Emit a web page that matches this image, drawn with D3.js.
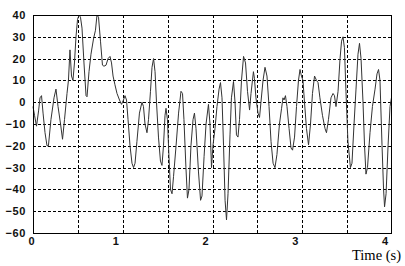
<!DOCTYPE html>
<html>
<head>
<meta charset="utf-8">
<script src="https://cdn.jsdelivr.net/npm/d3@7"></script>
<style>
  html, body { margin: 0; padding: 0; background: #fff; }
  svg { display: block; }
</style>
</head>
<body>
<svg id="chart" width="405" height="266"></svg>
<script>
// ---- data ----
const time = [
  0.000, 0.017, 0.039, 0.062, 0.078, 0.095, 0.112, 0.134, 0.156, 0.172,
  0.200, 0.234, 0.256, 0.279, 0.307, 0.329, 0.351, 0.379, 0.395, 0.412,
  0.429, 0.445, 0.462, 0.479, 0.496, 0.513, 0.529, 0.546, 0.568, 0.591,
  0.602, 0.624, 0.646, 0.674, 0.696, 0.713, 0.730, 0.752, 0.774, 0.791,
  0.814, 0.836, 0.858, 0.875, 0.892, 0.913, 0.936, 0.964, 0.986, 1.008,
  1.025, 1.042, 1.059, 1.081, 1.103, 1.120, 1.137, 1.158, 1.186, 1.214,
  1.231, 1.248, 1.270, 1.287, 1.309, 1.326, 1.343, 1.360, 1.376, 1.398,
  1.420, 1.437, 1.454, 1.471, 1.482, 1.498, 1.515, 1.532, 1.549, 1.566,
  1.594, 1.622, 1.649, 1.666, 1.682, 1.704, 1.721, 1.738, 1.760, 1.783,
  1.799, 1.816, 1.844, 1.867, 1.883, 1.906, 1.928, 1.955, 1.972, 1.989,
  2.005, 2.028, 2.050, 2.073, 2.089, 2.106, 2.123, 2.140, 2.156, 2.173,
  2.195, 2.211, 2.234, 2.251, 2.267, 2.284, 2.301, 2.323, 2.346, 2.368,
  2.390, 2.413, 2.429, 2.456, 2.467, 2.484, 2.507, 2.524, 2.540, 2.563,
  2.585, 2.607, 2.630, 2.652, 2.675, 2.696, 2.718, 2.746, 2.769, 2.785,
  2.797, 2.813, 2.830, 2.853, 2.875, 2.892, 2.914, 2.936, 2.958, 2.975,
  2.991, 3.008, 3.025, 3.047, 3.070, 3.092, 3.114, 3.137, 3.159, 3.176,
  3.197, 3.225, 3.253, 3.270, 3.292, 3.320, 3.343, 3.359, 3.376, 3.399,
  3.421, 3.438, 3.454, 3.470, 3.487, 3.509, 3.537, 3.554, 3.577, 3.599,
  3.621, 3.638, 3.655, 3.677, 3.694, 3.710, 3.727, 3.755, 3.782, 3.811,
  3.833, 3.850, 3.866, 3.889, 3.906, 3.917, 3.934, 3.956, 3.978, 3.994
];
const signal = [
  -2, -6, -11, -4, 2, 3, -5, -14, -20, -20,
  -8, 2, 6, -2, -10, -17, -8, 4, 10, 24,
  12, 10, 18, 30, 38, 40, 39, 34, 18, 3,
  2.5, 14, 22, 29, 33, 40, 39, 28, 17, 16.5,
  17, 20, 21, 18, 12, 8, 4, 1, -1, 1,
  3, 1, -8, -20, -28, -30, -28, -18, -5, 0,
  -2, -10, -14, -8, 5, 16, 20, 14, 0, -16,
  -27, -29, -20, -6, -2.8, -8, -25, -40, -42, -34,
  -20, -5, 5, 4, -8, -30, -44, -40, -20, -8,
  -5, -12, -32, -45, -43, -25, -10, -1, -10, -30,
  -20, -12, -2, 6, 9, 2, -20, -45, -54, -42,
  -15, 2, 9.5, 0, -15, -16, -8, 10, 21, 18,
  5, -3.6, 4, 14, 11, 2, -5, -7, 0, 10,
  16, 12, -2, -18, -28, -30, -24, -10, -3, 2,
  1, 3, -2, -12, -21, -22, -16, -2, 10, 15,
  12, 10, 0, -12, -19.6, -10, 4, 12, 10, 9,
  2, -6, -12, -14, -8, 2, 4, 3, -2, 5,
  20, 28, 30, 25, 5, -18, -30, -28, -10, 6,
  22, 27, 20, 0, -20, -33, -30, -14, -2, 6,
  13, 15, 10, -20, -40, -48, -42, -20, -2, 2
];
const xTicks = [0, 1, 2, 3, 4];
const xGrid = [0.5, 1, 1.5, 2, 2.5, 3, 3.5];
const yTicks = [40, 30, 20, 10, 0, -10, -20, -30, -40, -50, -60];
const yGrid = [30, 20, 10, 0, -10, -20, -30, -40, -50];
const xLabel = "Time (s)";

// ---- layout ----
const svg = d3.select("#chart");
const L = 33, R = 392, T = 15, B = 233;

const x = d3.scaleLinear().domain([0, 4]).range([L, R]);
const y = d3.scaleLinear().domain([-60, 40]).range([B, T]);

// grid
const grid = svg.append("g").attr("stroke", "#000").attr("stroke-width", 1)
  .attr("stroke-dasharray", "3,2").attr("shape-rendering", "crispEdges");
grid.selectAll("line.h").data(yGrid).join("line").attr("class", "h")
  .attr("x1", L).attr("x2", R)
  .attr("y1", d => Math.round(y(d)) + 0.5).attr("y2", d => Math.round(y(d)) + 0.5);
grid.selectAll("line.v").data(xGrid).join("line").attr("class", "v")
  .attr("y1", T).attr("y2", B)
  .attr("x1", d => Math.round(x(d)) + 0.5).attr("x2", d => Math.round(x(d)) + 0.5);

// signal line
const data = time.map((t, i) => [t, signal[i]]);
svg.append("path")
  .datum(data)
  .attr("fill", "none")
  .attr("stroke", "#333")
  .attr("stroke-width", 1)
  .attr("stroke-linejoin", "round")
  .attr("d", d3.line().x(d => x(d[0])).y(d => y(d[1])));

// frame
svg.append("rect")
  .attr("x", L + 0.5).attr("y", T + 0.5)
  .attr("width", R - L - 1).attr("height", B - T)
  .attr("fill", "none").attr("stroke", "#000").attr("stroke-width", 1)
  .attr("shape-rendering", "crispEdges");

// y axis labels
const yAxis = d3.axisLeft(y).tickValues(yTicks).tickSize(0).tickPadding(7)
  .tickFormat(d3.format("d"));
const gy = svg.append("g").attr("transform", `translate(${L},0)`).call(yAxis);
gy.select(".domain").remove();
gy.selectAll("text")
  .attr("font-family", "Liberation Sans, Arial, sans-serif")
  .attr("font-size", 11).attr("font-weight", "bold").attr("fill", "#111")
  .attr("letter-spacing", "0.6px");

// x axis labels
const xAxis = d3.axisBottom(x).tickValues(xTicks).tickSize(0).tickPadding(4)
  .tickFormat(d3.format("d"));
const gx = svg.append("g").attr("transform", `translate(0,${B})`).call(xAxis);
gx.select(".domain").remove();
gx.selectAll("text")
  .attr("font-family", "Liberation Sans, Arial, sans-serif")
  .attr("font-size", 11).attr("font-weight", "bold").attr("fill", "#111")
  .attr("dx", d => d === 0 ? -2 : -7.5);

// axis title
svg.append("text")
  .attr("x", 401).attr("y", 260)
  .attr("text-anchor", "end")
  .attr("font-family", "Liberation Serif, 'Times New Roman', serif")
  .attr("font-size", 14.5).attr("fill", "#000")
  .text(xLabel);
</script>
</body>
</html>
